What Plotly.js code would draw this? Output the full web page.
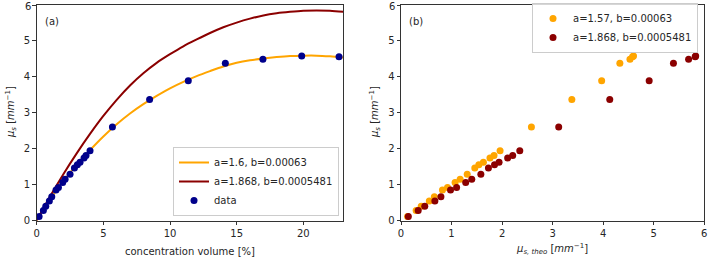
<!DOCTYPE html>
<html>
<head>
<meta charset="utf-8">
<script src="https://cdn.plot.ly/plotly-3.0.1.min.js"></script>
<style>html,body{margin:0;padding:0;background:#fff;}#chart{width:709px;height:259px;}</style>
</head>
<body>
<div id="chart"></div>
<script>
// Measured data (panel a)
const concentration = [0.18,0.5,0.68,0.95,1.13,1.45,1.63,1.95,2.13,2.5,2.83,3.05,3.25,3.55,3.7,4.0,5.68,8.47,11.37,14.15,16.97,19.88,22.68];
const musData = [0.11,0.28,0.40,0.54,0.66,0.85,0.92,1.06,1.15,1.29,1.46,1.55,1.62,1.74,1.81,1.94,2.60,3.37,3.89,4.38,4.49,4.58,4.56];

// Fit curves
const fitConc = [0,1,2,3,4,5,6,7,8,9,10,11,12,13,14,15,16,17,18,19,20,21,22,23];
const fitOrange = [0,0.58,1.10,1.55,1.96,2.34,2.68,2.98,3.24,3.47,3.68,3.86,4.02,4.16,4.29,4.39,4.46,4.51,4.55,4.58,4.59,4.59,4.57,4.54];
const fitRed = [0,0.67,1.29,1.87,2.41,2.91,3.36,3.76,4.10,4.39,4.63,4.85,5.04,5.22,5.38,5.51,5.62,5.71,5.77,5.81,5.84,5.85,5.84,5.81];

// Panel b: theoretical values
const theoOrange = [0.13,0.30,0.40,0.56,0.66,0.82,0.92,1.07,1.17,1.31,1.46,1.54,1.63,1.76,1.84,1.96,2.58,3.38,3.97,4.33,4.53,4.60,4.58];
const theoRed = [0.145,0.34,0.47,0.67,0.79,0.98,1.10,1.28,1.40,1.58,1.73,1.85,1.94,2.11,2.21,2.35,3.12,4.13,4.91,5.39,5.69,5.83,5.82];

// Tick values / labels
const xTicksA = [0,5,10,15,20];
const yTicks = [0,1,2,3,4,5,6];
const yTickText = ['0','1','2','3','4','5',''];
const yTopLabel = '6';
const xTicksB = [0,1,2,3,4,5,6];

const labelOrangeA = 'a=1.6, b=0.00063';
const labelRed = 'a=1.868, b=0.0005481';
const labelOrangeB = 'a=1.57, b=0.00063';

const ORANGE = '#FFA500', DARKRED = '#8B0000', NAVY = '#00008B';
const W = 709, H = 259;
const px = v => v / W, py = v => 1 - v / H;

const traces = [
  {x: fitConc, y: fitOrange, mode: 'lines', line: {color: ORANGE, width: 2, shape: 'spline', smoothing: 0.8}, name: labelOrangeA, xaxis: 'x', yaxis: 'y', legend: 'legend'},
  {x: fitConc, y: fitRed, mode: 'lines', line: {color: DARKRED, width: 2, shape: 'spline', smoothing: 0.8}, name: labelRed, xaxis: 'x', yaxis: 'y', legend: 'legend'},
  {x: concentration, y: musData, mode: 'markers', marker: {color: NAVY, size: 7}, name: 'data', xaxis: 'x', yaxis: 'y', legend: 'legend'},
  {x: theoOrange, y: musData, mode: 'markers', marker: {color: ORANGE, size: 7}, name: labelOrangeB, xaxis: 'x2', yaxis: 'y2', legend: 'legend2'},
  {x: theoRed, y: musData, mode: 'markers', marker: {color: DARKRED, size: 7}, name: labelRed, xaxis: 'x2', yaxis: 'y2', legend: 'legend2'}
];

const tickFont = {family: 'DejaVu Sans', size: 10, color: '#262626'};

const axisBase = {
  showgrid: false, zeroline: false, showline: true, mirror: true,
  linecolor: '#333', linewidth: 1, ticks: 'outside', ticklen: 3.5, tickwidth: 1, tickcolor: '#333',
  tickfont: tickFont, fixedrange: true
};

const legendBase = {
  font: tickFont,
  bgcolor: 'rgba(255,255,255,0.8)', bordercolor: '#cccccc', borderwidth: 1,
  xref: 'paper', yref: 'paper', itemwidth: 30, tracegroupgap: 0
};

const TOP = 5, BOTTOM = 220.5;

const layout = {
  width: W, height: H,
  margin: {l: 0, r: 0, t: 0, b: 0},
  paper_bgcolor: '#fff', plot_bgcolor: '#fff',
  font: tickFont,
  xaxis: Object.assign({}, axisBase, {domain: [px(36.7), px(343.3)], range: [0, 23], tickvals: xTicksA, anchor: 'y'}),
  yaxis: Object.assign({}, axisBase, {domain: [py(BOTTOM), py(TOP)], range: [0, 6], tickvals: yTicks, ticktext: yTickText, anchor: 'x'}),
  xaxis2: Object.assign({}, axisBase, {domain: [px(401), px(704.3)], range: [0, 6.0005], tickvals: xTicksB, anchor: 'y2'}),
  yaxis2: Object.assign({}, axisBase, {domain: [py(BOTTOM), py(TOP)], range: [0, 6], tickvals: yTicks, ticktext: yTickText, anchor: 'x2'}),
  showlegend: true,
  legend: Object.assign({}, legendBase, {x: px(339), y: py(216), xanchor: 'right', yanchor: 'bottom'}),
  legend2: Object.assign({}, legendBase, {x: px(698), y: py(3), xanchor: 'right', yanchor: 'top'}),
  annotations: [
    {text: yTopLabel, xref: 'paper', yref: 'paper', x: px(31.5), y: py(7), xanchor: 'right', yanchor: 'middle', borderpad: 0, showarrow: false, font: tickFont},
    {text: yTopLabel, xref: 'paper', yref: 'paper', x: px(395.8), y: py(7), xanchor: 'right', yanchor: 'middle', borderpad: 0, showarrow: false, font: tickFont},
    {text: '(a)', xref: 'paper', yref: 'paper', x: px(43), y: py(21), xanchor: 'left', yanchor: 'middle', showarrow: false, font: {size: 10}},
    {text: '(b)', xref: 'paper', yref: 'paper', x: px(407), y: py(21), xanchor: 'left', yanchor: 'middle', showarrow: false, font: {size: 10}},
    {text: 'concentration volume [%]', xref: 'paper', yref: 'paper', x: px(190), y: py(251), xanchor: 'center', yanchor: 'middle', showarrow: false, font: {size: 10}},
    {text: '<i>μ<sub>s, theo</sub></i> [<i>mm</i><sup>−1</sup>]', xref: 'paper', yref: 'paper', x: px(552), y: py(249), xanchor: 'center', yanchor: 'middle', showarrow: false, font: {size: 10}},
    {text: '<i>μ<sub>s</sub></i> [<i>mm</i><sup>−1</sup>]', xref: 'paper', yref: 'paper', x: px(11), y: py(112), xanchor: 'center', yanchor: 'middle', textangle: -90, showarrow: false, font: {size: 10}},
    {text: '<i>μ<sub>s</sub></i> [<i>mm</i><sup>−1</sup>]', xref: 'paper', yref: 'paper', x: px(375), y: py(112), xanchor: 'center', yanchor: 'middle', textangle: -90, showarrow: false, font: {size: 10}}
  ]
};

Plotly.newPlot('chart', traces, layout, {displayModeBar: false, staticPlot: true});
</script>
</body>
</html>
